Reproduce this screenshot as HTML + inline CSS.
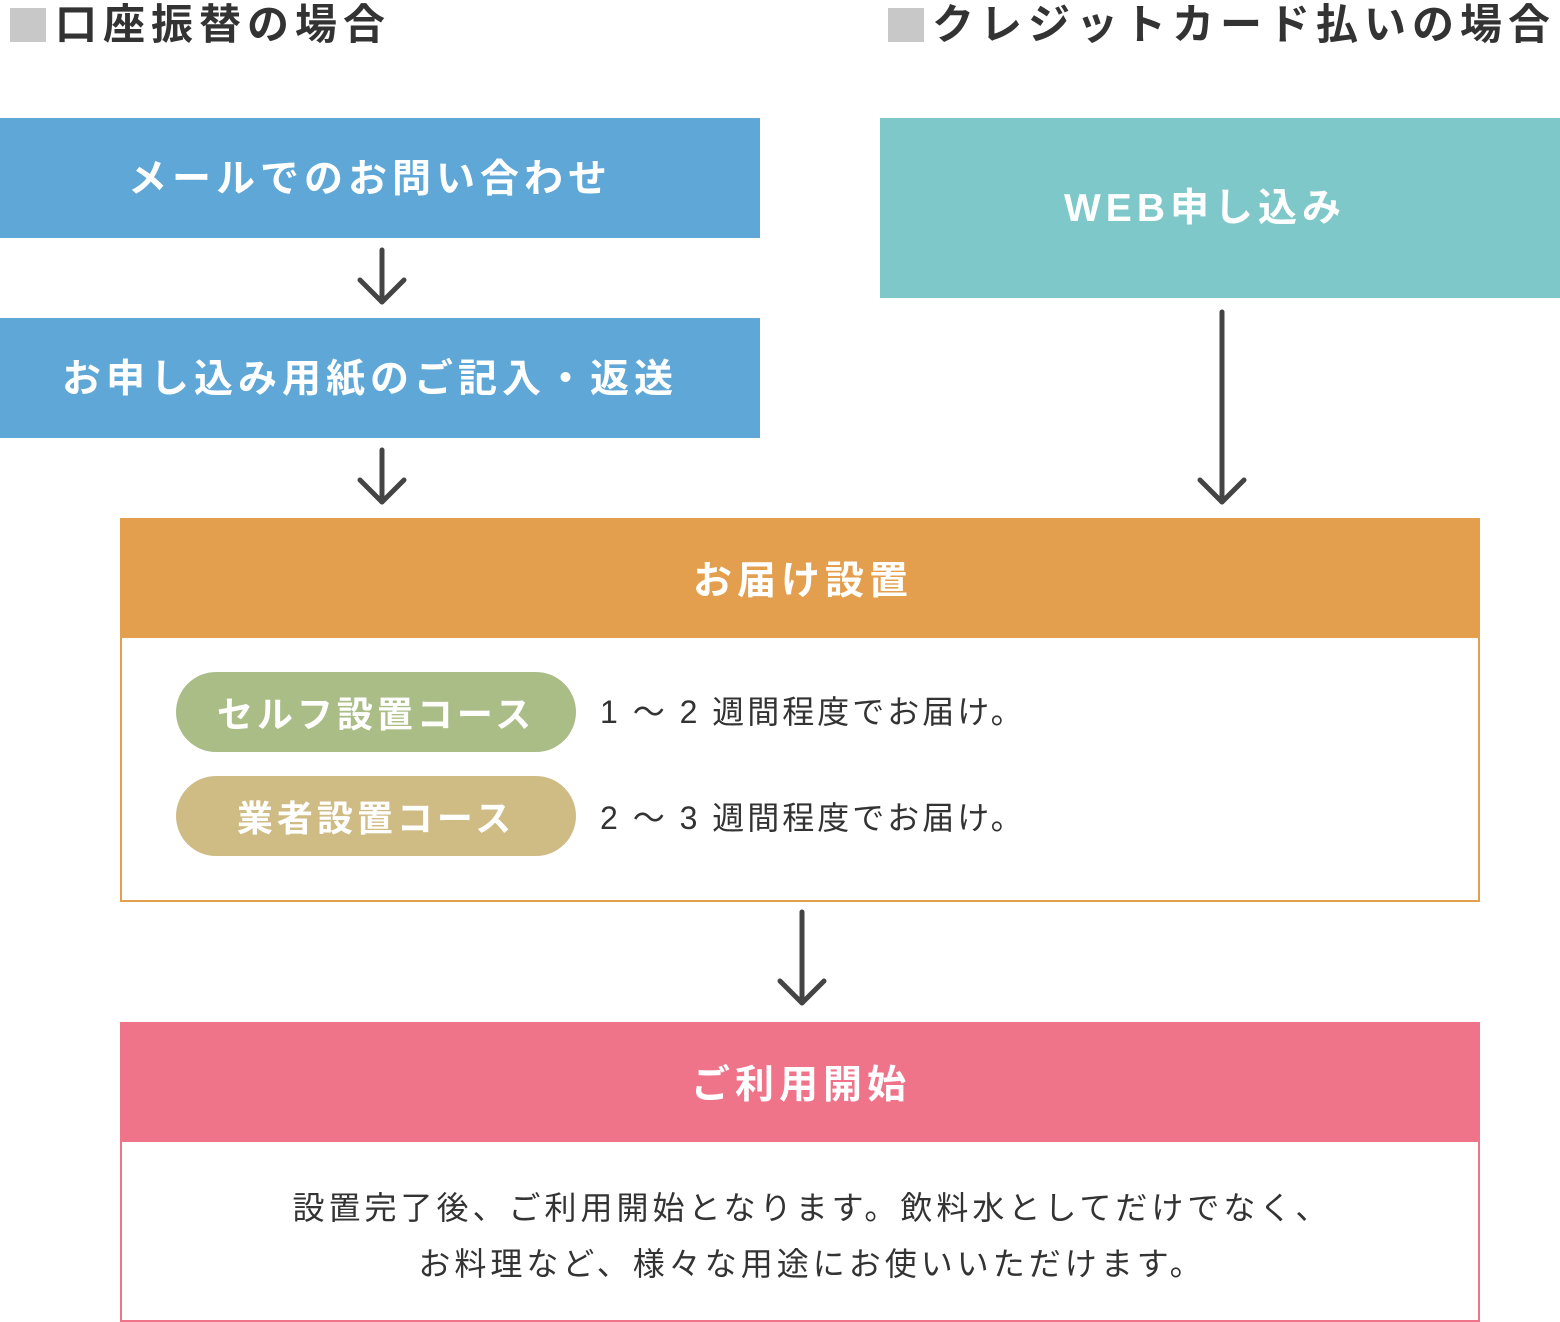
<!DOCTYPE html>
<html><head><meta charset="utf-8"><style>
body{margin:0;width:1560px;height:1322px;background:#fff;position:relative;overflow:hidden;font-family:"Liberation Sans","Noto Sans CJK JP",sans-serif;}
.a{position:absolute;box-sizing:border-box;}
.t{font-weight:bold;color:#333;font-size:42px;letter-spacing:6px;line-height:50px;white-space:nowrap}
.sq{background:#c8c8c8;width:36px;height:34px}
.hd{color:#fff;font-weight:bold;font-size:39px;letter-spacing:5px;display:flex;align-items:center;justify-content:center;white-space:nowrap}
.pill{border-radius:40px;color:#fff;font-weight:bold;font-size:36px;letter-spacing:4px;display:flex;align-items:center;justify-content:center;white-space:nowrap}
.tx{color:#333;font-size:32px;letter-spacing:3px;white-space:nowrap;line-height:40px}
</style></head><body>
<div class="a sq" style="left:10px;top:8px"></div>
<div class="a t" style="left:55px;top:0px">口座振替の場合</div>
<div class="a sq" style="left:888px;top:8px"></div>
<div class="a t" style="left:932px;top:0px">クレジットカード払いの場合</div>

<div class="a hd" style="left:0;top:118px;width:760px;height:120px;background:#5ea7d6;padding-bottom:4px;padding-right:20px">メールでのお問い合わせ</div>
<div class="a hd" style="left:0;top:318px;width:760px;height:120px;background:#5ea7d6;padding-bottom:4px;padding-right:20px">お申し込み用紙のご記入・返送</div>
<div class="a hd" style="left:880px;top:118px;width:680px;height:180px;background:#7ec8c9;padding-right:30px;padding-bottom:6px">WEB申し込み</div>

<div class="a" style="left:120px;top:518px;width:1360px;height:384px;border:2px solid #e39f4d"></div>
<div class="a hd" style="left:120px;top:518px;width:1360px;height:120px;background:#e39f4d;padding-left:6px">お届け設置</div>
<div class="a pill" style="left:176px;top:672px;width:400px;height:80px;background:#aabd87">セルフ設置コース</div>
<div class="a pill" style="left:176px;top:776px;width:400px;height:80px;background:#cfbb84">業者設置コース</div>
<div class="a tx" style="left:600px;top:692px">1 ～ 2 週間程度でお届け。</div>
<div class="a tx" style="left:600px;top:798px">2 ～ 3 週間程度でお届け。</div>

<div class="a" style="left:120px;top:1022px;width:1360px;height:300px;border:2px solid #ef7489"></div>
<div class="a hd" style="left:120px;top:1022px;width:1360px;height:120px;background:#ef7489;padding-left:2px">ご利用開始</div>
<div class="a tx" style="left:120px;top:1180px;width:1360px;text-align:center;letter-spacing:4px;line-height:56px;padding-left:24px">設置完了後、ご利用開始となります。飲料水としてだけでなく、<br>お料理など、様々な用途にお使いいただけます。</div>

<svg class="a" style="left:0;top:0" width="1560" height="1322">
<g stroke="#444" stroke-width="5" fill="none" stroke-linecap="round" stroke-linejoin="round">
<line x1="382" y1="250" x2="382" y2="302"/><polyline points="360,280 382,302 404,280"/>
<line x1="382" y1="450" x2="382" y2="502"/><polyline points="360,480 382,502 404,480"/>
<line x1="1222" y1="312" x2="1222" y2="502"/><polyline points="1200,480 1222,502 1244,480"/>
<line x1="802" y1="912" x2="802" y2="1003"/><polyline points="780,981 802,1003 824,981"/>
</g></svg>
</body></html>
